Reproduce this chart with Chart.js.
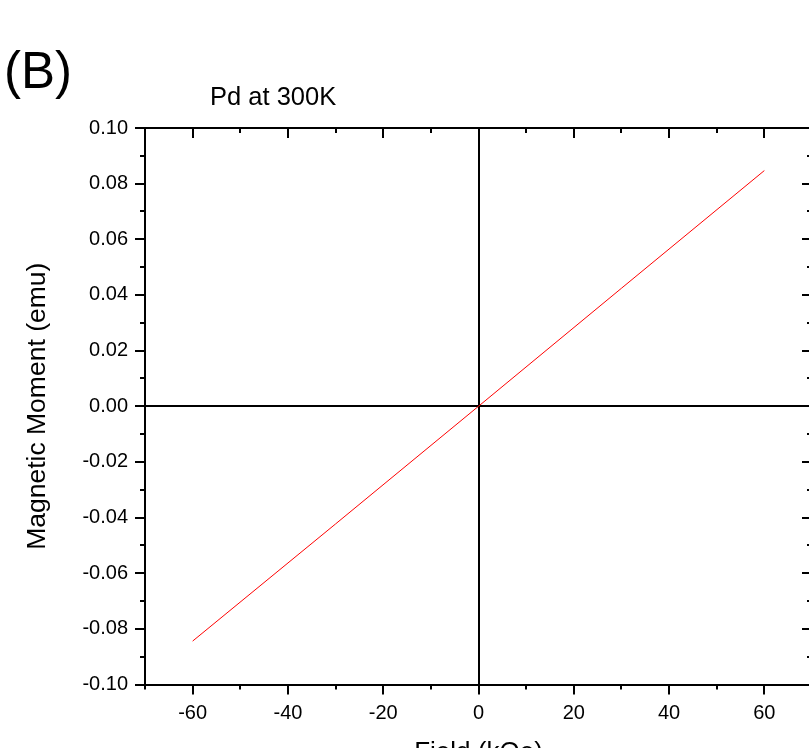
<!DOCTYPE html>
<html>
<head>
<meta charset="utf-8">
<script src="https://cdn.jsdelivr.net/npm/chart.js@4.4.0/dist/chart.umd.min.js"></script>
<style>
    html, body { margin: 0; padding: 0; background: #fff; overflow: hidden; width: 809px; height: 748px; }
    #wrap { position: relative; width: 809px; height: 748px; overflow: hidden; }
    #momentChart { position: absolute; left: 0; top: 0; }
    .lbl { position: absolute; font-family: "Liberation Sans", Arial, sans-serif; color: #000; line-height: 1; white-space: nowrap; }
</style>
</head>
<body>
<div id="wrap">
    <canvas id="momentChart" width="820" height="768"></canvas>
    <div class="lbl" style="left:4px; top:45px; font-size:51px;">(B)</div>
    <div class="lbl" style="left:210px; top:84px; font-size:25.5px;">Pd at 300K</div>
</div>
<script>
// field (kOe) vs moment (emu)
var fieldValues = [-60, -30, 0, 30, 60];
var momentValues = [-0.0844, -0.0423, 0.0000, 0.0424, 0.0847];

var xTickLabels = [-60, -40, -20, 0, 20, 40, 60];
var yTickLabels = ['-0.10', '-0.08', '-0.06', '-0.04', '-0.02', '0.00', '0.02', '0.04', '0.06', '0.08', '0.10'];

var fontFamily = '"Liberation Sans", Arial, sans-serif';

// ticks on all four sides: outward on bottom/left, inward on top/right
var frameTicks = {
    id: 'frameTicks',
    afterDraw: function (chart) {
        var ctx = chart.ctx;
        var area = chart.chartArea;
        var xs = chart.scales.x;
        var ys = chart.scales.y;
        ctx.save();
        ctx.strokeStyle = '#000';
        ctx.lineWidth = 2;

        // top and right border
        ctx.beginPath();
        ctx.moveTo(area.left - 1, area.top);
        ctx.lineTo(area.right + 1, area.top);
        ctx.moveTo(area.right, area.top);
        ctx.lineTo(area.right, area.bottom);
        ctx.stroke();

        ctx.beginPath();
        xs.ticks.forEach(function (t) {
            var px = Math.round(xs.getPixelForValue(t.value));
            var len = Math.round(t.value) % 20 === 0 ? 10 : 5;
            ctx.moveTo(px, area.bottom);
            ctx.lineTo(px, area.bottom + len);
            ctx.moveTo(px, area.top);
            ctx.lineTo(px, area.top + len);
        });
        ys.ticks.forEach(function (t) {
            var py = Math.round(ys.getPixelForValue(t.value));
            var len = Math.round(t.value * 100) % 2 === 0 ? 10 : 5;
            ctx.moveTo(area.left, py);
            ctx.lineTo(area.left - len, py);
            ctx.moveTo(area.right, py);
            ctx.lineTo(area.right - len, py);
        });
        ctx.stroke();
        ctx.restore();
    }
};

function createMomentChart() {
    var canvas = document.getElementById('momentChart').getContext('2d');

    var points = fieldValues.map(function (f, i) {
        return { x: f, y: momentValues[i] };
    });

    new Chart(canvas, {
        type: 'line',
        data: {
            datasets: [{
                label: 'Pd at 300K',
                data: points,
                borderColor: '#ff0000',
                borderWidth: 1,
                pointRadius: 0,
                tension: 0,
                fill: false
            }]
        },
        options: {
            responsive: false,
            animation: false,
            devicePixelRatio: 1,
            layout: { padding: { left: 0, right: 8, top: 128, bottom: 0 } },
            plugins: {
                legend: { display: false },
                tooltip: { enabled: false }
            },
            scales: {
                x: {
                    type: 'linear',
                    position: 'bottom',
                    min: -70,
                    max: 70,
                    afterFit: function (scale) {
                        scale.height = 83.5;
                        scale.paddingLeft = 0;
                        scale.paddingRight = 0;
                    },
                    border: { display: true, color: '#000', width: 2 },
                    grid: {
                        drawTicks: false,
                        color: function (c) { return c.tick && c.tick.value === 0 ? '#000' : 'rgba(0,0,0,0)'; },
                        lineWidth: 2
                    },
                    ticks: {
                        stepSize: 10,
                        autoSkip: false,
                        maxRotation: 0,
                        padding: 17,
                        color: '#000',
                        font: { family: fontFamily, size: 20 },
                        callback: function (value) {
                            return xTickLabels.indexOf(Math.round(value)) >= 0 ? String(Math.round(value)) : '';
                        }
                    },
                    title: {
                        display: true,
                        text: 'Field (kOe)',
                        color: '#000',
                        font: { family: fontFamily, size: 26 },
                        padding: { top: 0, bottom: 0 }
                    }
                },
                y: {
                    type: 'linear',
                    min: -0.1,
                    max: 0.1,
                    afterFit: function (scale) { scale.width = 145; },
                    border: { display: true, color: '#000', width: 2 },
                    grid: {
                        drawTicks: false,
                        color: function (c) { return c.tick && Math.abs(c.tick.value) < 1e-9 ? '#000' : 'rgba(0,0,0,0)'; },
                        lineWidth: 2
                    },
                    ticks: {
                        stepSize: 0.01,
                        autoSkip: false,
                        padding: 17,
                        color: '#000',
                        font: { family: fontFamily, size: 20 },
                        callback: function (value) {
                            var s = (Math.round(value * 100) / 100).toFixed(2);
                            if (s === '-0.00') s = '0.00';
                            return yTickLabels.indexOf(s) >= 0 && Math.round(value * 100) % 2 === 0 ? s : '';
                        }
                    },
                    title: {
                        display: true,
                        text: 'Magnetic Moment (emu)',
                        color: '#000',
                        font: { family: fontFamily, size: 26.5 },
                        padding: { top: 22, bottom: 0 }
                    }
                }
            }
        },
        plugins: [frameTicks]
    });
}

createMomentChart();
</script>
</body>
</html>
